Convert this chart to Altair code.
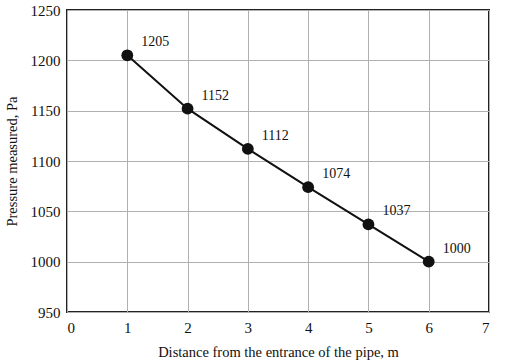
import altair as alt
import pandas as pd

distance = [1, 2, 3, 4, 5, 6]
pressure = [1205, 1152, 1112, 1074, 1037, 1000]
x_ticks = [0, 1, 2, 3, 4, 5, 6, 7]
y_ticks = [950, 1000, 1050, 1100, 1150, 1200, 1250]

df = pd.DataFrame({"d": distance, "p": pressure})

FONT = "Liberation Serif"

x = alt.X("d:Q", scale=alt.Scale(domain=[0, 7], nice=False),
          axis=alt.Axis(values=x_ticks, title="Distance from the entrance of the pipe, m",
                        format="d", grid=True, ticks=False, domain=False,
                        labelPadding=8, titlePadding=10))
y = alt.Y("p:Q", scale=alt.Scale(domain=[950, 1250], nice=False, zero=False),
          axis=alt.Axis(values=y_ticks, title="Pressure measured, Pa", format="d",
                        grid=True, ticks=False, domain=False,
                        labelPadding=7, titlePadding=11))

base = alt.Chart(df)
line = base.mark_line(color="#111111", strokeWidth=2).encode(x=x, y=y)
pts = base.mark_circle(color="#111111", size=140, opacity=1).encode(x=x, y=y)
labels = base.mark_text(align="left", baseline="middle", dx=14, dy=-13,
                        font=FONT, fontSize=14, color="#111111").encode(
    x=x, y=y, text=alt.Text("p:Q", format="d"))

chart = (line + pts + labels).properties(
    width=422, height=302,
    background="white",
    autosize=alt.AutoSizeParams(type="none"),
    padding={"left": 67, "top": 10, "right": 17, "bottom": 52},
).configure_view(
    stroke="#222222", strokeWidth=2
).configure_axis(
    labelFont=FONT, titleFont=FONT, labelFontSize=15, titleFontSize=14.5,
    labelColor="#111111", titleColor="#111111", titleFontWeight="normal",
    gridColor="#b0b0b0", gridWidth=1,
)

chart.save("out.html", embed_options={"renderer": "svg", "actions": False})
